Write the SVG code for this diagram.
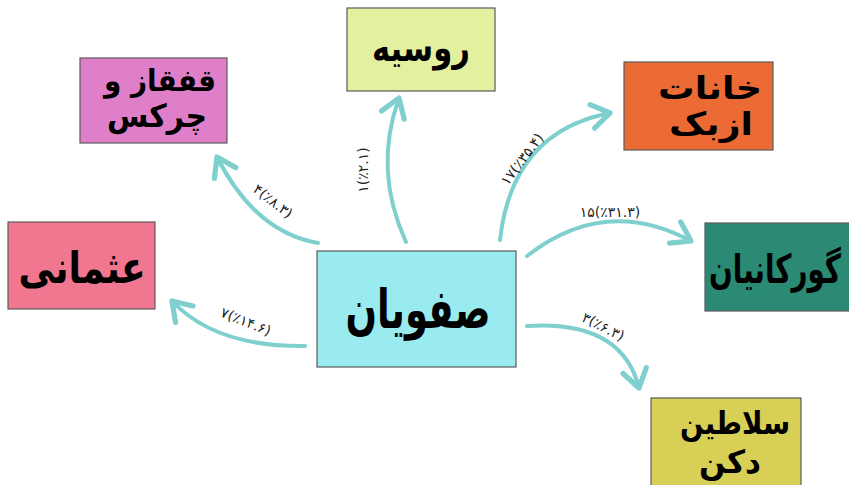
<svg xmlns="http://www.w3.org/2000/svg" width="849" height="485" viewBox="0 0 849 485">
<style>
.box{stroke:#5a5a5a;stroke-width:1.2}
.t{font-family:"DejaVu Sans",sans-serif;font-weight:bold;fill:#000;text-anchor:middle;direction:rtl}
.lbl{font-family:"DejaVu Sans",sans-serif;font-size:14px;fill:#222;text-anchor:middle;direction:ltr}
.c{fill:none;stroke:#7fcfcf;stroke-width:4;stroke-linecap:round;marker-end:url(#ah)}
</style>
<defs>
<marker id="ah" markerUnits="userSpaceOnUse" markerWidth="30" markerHeight="30" refX="14" refY="10" orient="auto" viewBox="0 0 16 20">
<path d="M2 2 L14 10 L2 18" fill="none" stroke="#7fcfcf" stroke-width="3.5" stroke-linecap="round" stroke-linejoin="round"/>
</marker>
</defs>
<rect width="849" height="485" fill="#fff"/>
<g id="connectors">
<path class="c" d="M318 243 Q255 232 217 157"/>
<path class="c" d="M406 242 Q373 170 399 98"/>
<path class="c" d="M500 240 Q512 132 610 113"/>
<path class="c" d="M527 256 Q605 195 691 241"/>
<path class="c" d="M527 326 Q622 320 639 388"/>
<path class="c" d="M305 346 Q215 347 172 301"/>
<text class="lbl" transform="translate(270 205) rotate(38)">۴(٪۸.۳)</text>
<text class="lbl" transform="translate(368 170) rotate(-90)">۱(٪۲.۱)</text>
<text class="lbl" transform="translate(526 162) rotate(-53)">۱۷(٪۳۵.۴)</text>
<text class="lbl" transform="translate(610 217)">۱۵(٪۳۱.۳)</text>
<text class="lbl" transform="translate(601 331) rotate(27)">۳(٪۶.۳)</text>
<text class="lbl" transform="translate(244 326) rotate(22)">۷(٪۱۴.۶)</text>
</g>
<g id="safavid">
<rect class="box" x="317" y="251" width="199" height="116" fill="#9aebef"/>
<text class="t" x="418" y="328" font-size="54" textLength="145" lengthAdjust="spacingAndGlyphs">صفویان</text>
</g>
<g id="russia">
<rect class="box" x="347" y="8" width="148" height="83" fill="#e2f0a0"/>
<text class="t" x="421" y="61" font-size="38" textLength="98" lengthAdjust="spacingAndGlyphs">روسیه</text>
</g>
<g id="caucasus">
<rect class="box" x="80" y="58" width="147" height="85" fill="#e07fc9"/>
<text class="t" x="160" y="91" font-size="30" textLength="112" lengthAdjust="spacingAndGlyphs">قفقاز و</text>
<text class="t" x="157" y="127" font-size="32" textLength="100" lengthAdjust="spacingAndGlyphs">چرکس</text>
</g>
<g id="uzbek">
<rect class="box" x="624" y="62" width="149" height="88" fill="#ec6b35"/>
<text class="t" x="710" y="99" font-size="32" textLength="104" lengthAdjust="spacingAndGlyphs">خانات</text>
<text class="t" x="711" y="135" font-size="32" textLength="84" lengthAdjust="spacingAndGlyphs">ازبک</text>
</g>
<g id="gurkani">
<rect class="box" x="705" y="223" width="150" height="88" fill="#2b8a74"/>
<text class="t" x="775" y="283" font-size="40" textLength="132" lengthAdjust="spacingAndGlyphs">گورکانیان</text>
</g>
<g id="deccan">
<rect class="box" x="651" y="398" width="150" height="90" fill="#d8cf56"/>
<text class="t" x="735" y="434" font-size="32" textLength="110" lengthAdjust="spacingAndGlyphs">سلاطین</text>
<text class="t" x="730" y="473" font-size="32" textLength="62" lengthAdjust="spacingAndGlyphs">دکن</text>
</g>
<g id="ottoman">
<rect class="box" x="8" y="222" width="147" height="87" fill="#f17791"/>
<text class="t" x="82" y="283" font-size="44" textLength="127" lengthAdjust="spacingAndGlyphs">عثمانی</text>
</g>
</svg>
